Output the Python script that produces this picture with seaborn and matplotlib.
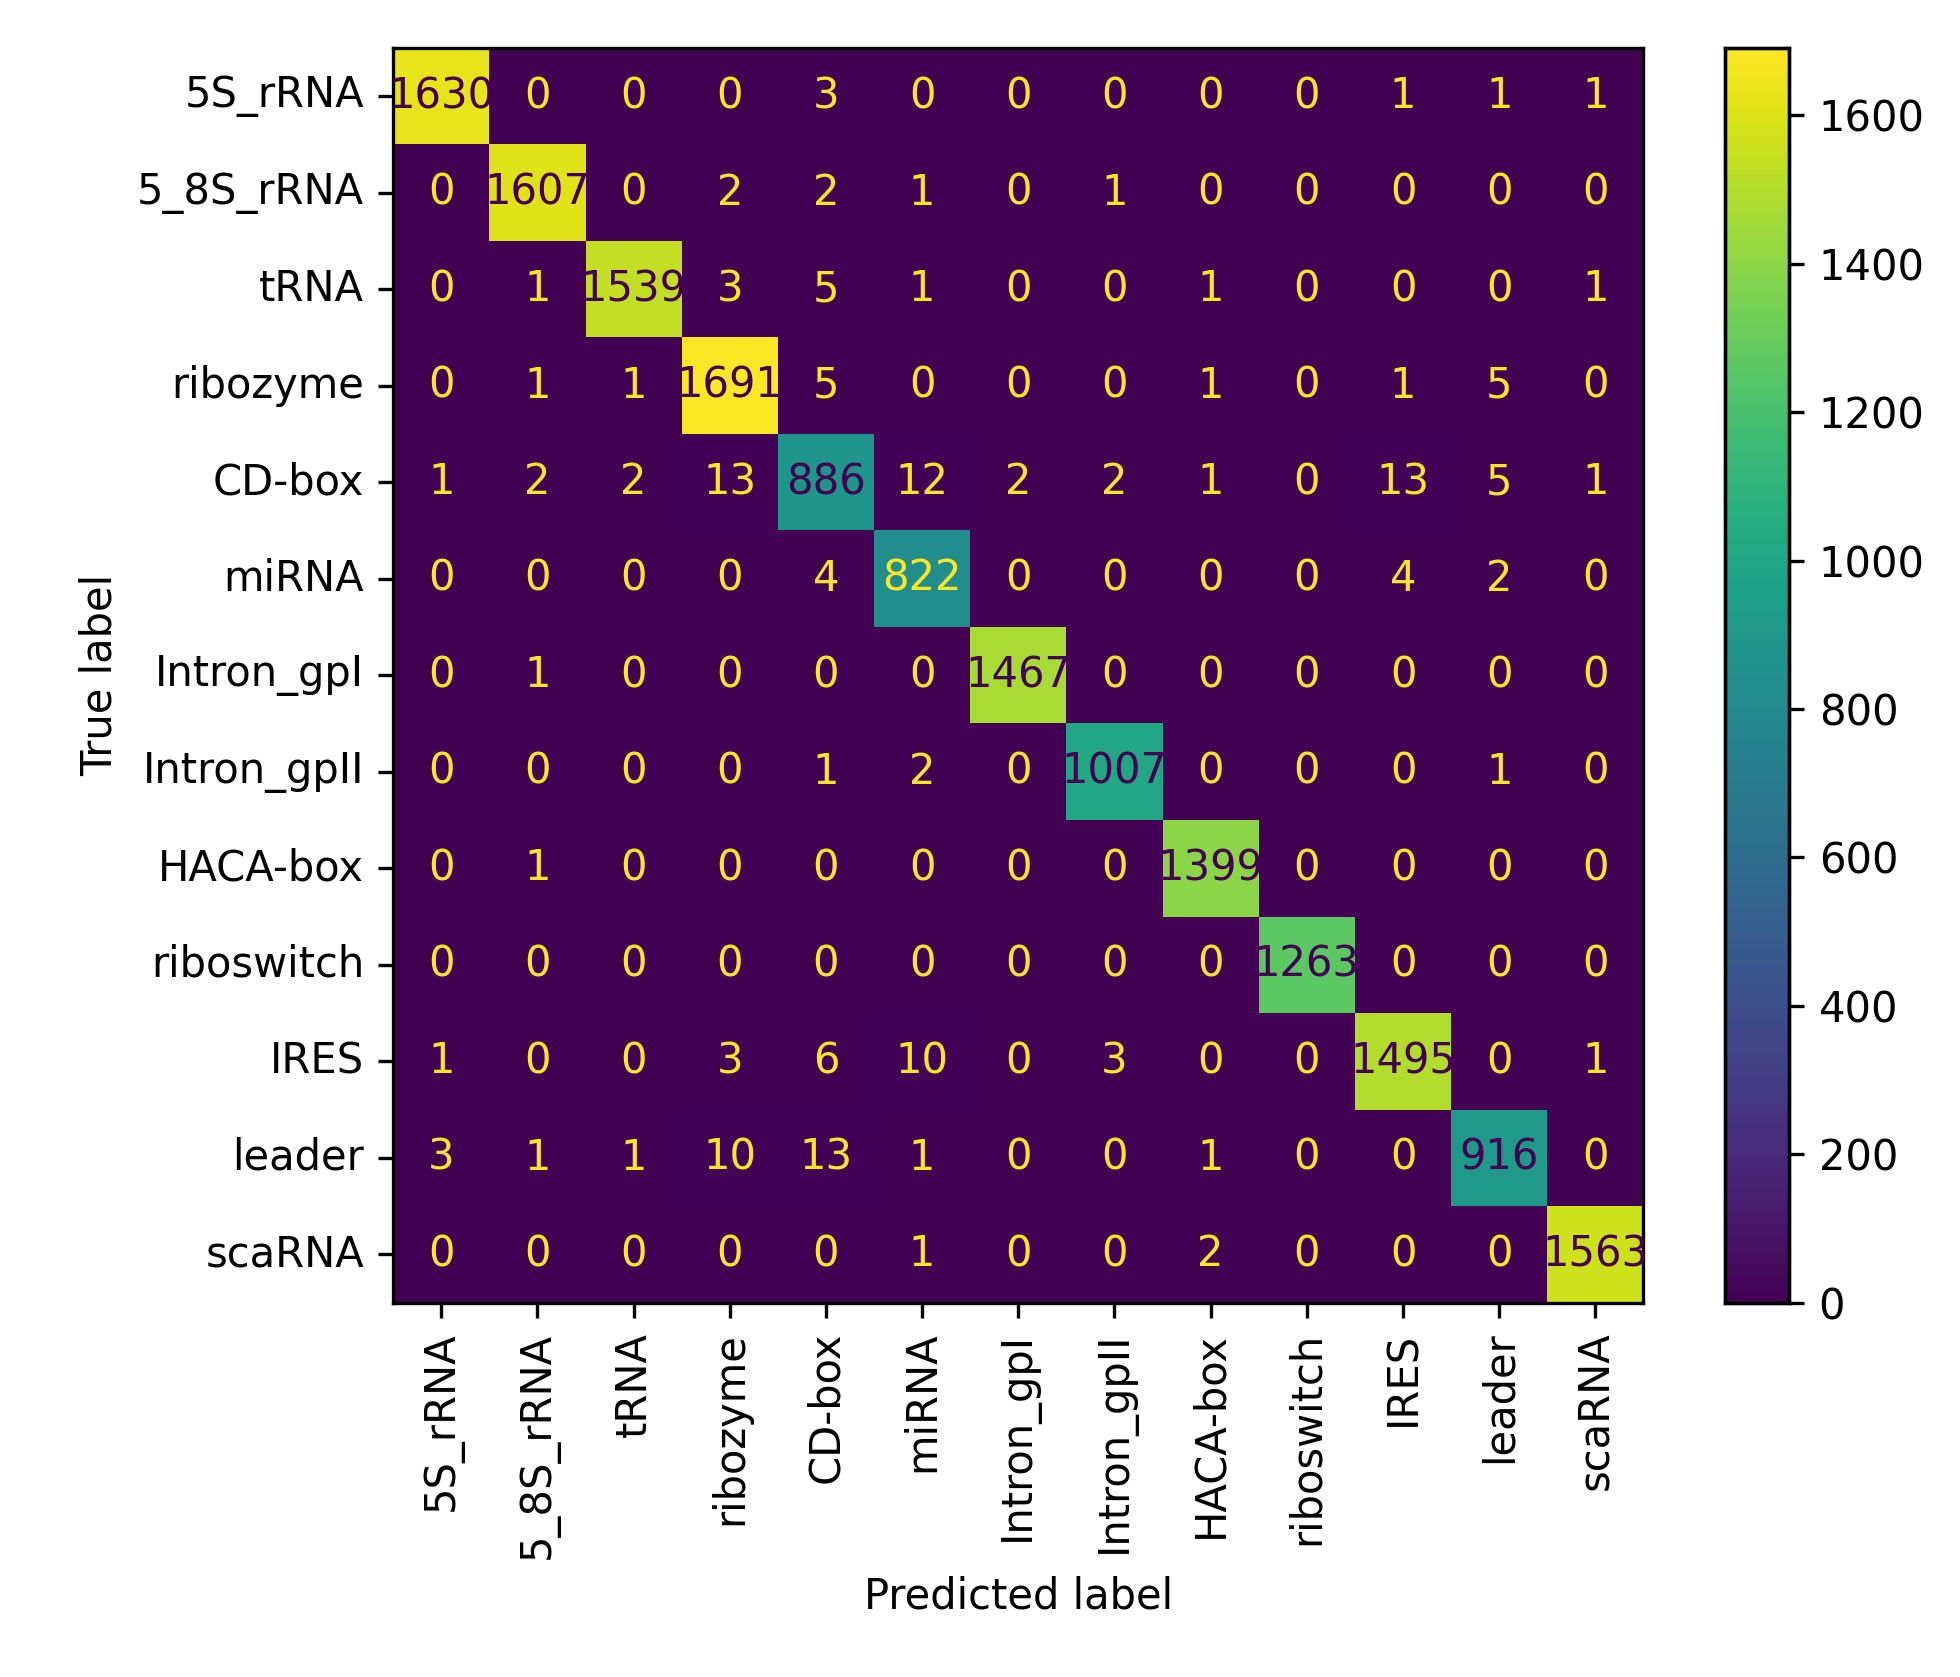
import numpy as np
import matplotlib
matplotlib.use('Agg')
import matplotlib.pyplot as plt
import seaborn as sns

labels = ['5S_rRNA', '5_8S_rRNA', 'tRNA', 'ribozyme', 'CD-box', 'miRNA',
          'Intron_gpI', 'Intron_gpII', 'HACA-box', 'riboswitch', 'IRES',
          'leader', 'scaRNA']

row_5s = [1630, 0, 0, 0, 3, 0, 0, 0, 0, 0, 1, 1, 1]
row_58s = [0, 1607, 0, 2, 2, 1, 0, 1, 0, 0, 0, 0, 0]
row_trna = [0, 1, 1539, 3, 5, 1, 0, 0, 1, 0, 0, 0, 1]
row_ribozyme = [0, 1, 1, 1691, 5, 0, 0, 0, 1, 0, 1, 5, 0]
row_cdbox = [1, 2, 2, 13, 886, 12, 2, 2, 1, 0, 13, 5, 1]
row_mirna = [0, 0, 0, 0, 4, 822, 0, 0, 0, 0, 4, 2, 0]
row_gpi = [0, 1, 0, 0, 0, 0, 1467, 0, 0, 0, 0, 0, 0]
row_gpii = [0, 0, 0, 0, 1, 2, 0, 1007, 0, 0, 0, 1, 0]
row_haca = [0, 1, 0, 0, 0, 0, 0, 0, 1399, 0, 0, 0, 0]
row_ribosw = [0, 0, 0, 0, 0, 0, 0, 0, 0, 1263, 0, 0, 0]
row_ires = [1, 0, 0, 3, 6, 10, 0, 3, 0, 0, 1495, 0, 1]
row_leader = [3, 1, 1, 10, 13, 1, 0, 0, 1, 0, 0, 916, 0]
row_scarna = [0, 0, 0, 0, 0, 1, 0, 0, 2, 0, 0, 0, 1563]

cm = np.array([row_5s, row_58s, row_trna, row_ribozyme, row_cdbox, row_mirna,
               row_gpi, row_gpii, row_haca, row_ribosw, row_ires, row_leader,
               row_scarna])

plt.rcParams['font.family'] = 'DejaVu Sans'
plt.rcParams['font.size'] = 10

fig = plt.figure(figsize=(1960 / 300, 1677 / 300), dpi=300)
ax = fig.add_axes([0.2006, 0.2233, 0.6379, 0.7481])
cax = fig.add_axes([0.880, 0.2233, 0.033, 0.7481])

sns.heatmap(cm, ax=ax, cbar_ax=cax, cmap='viridis', annot=True, fmt='d',
            annot_kws={'fontsize': 10}, xticklabels=labels, yticklabels=labels,
            square=False)

# sklearn-style text colouring
cmap = plt.get_cmap('viridis')
thresh = (cm.max() + cm.min()) / 2.0
for t, v in zip(ax.texts, cm.flatten()):
    t.set_color(cmap(0.0) if v > thresh else cmap(1.0))

for s in ax.spines.values():
    s.set_visible(True)
    s.set_linewidth(0.8)
ax.tick_params(length=3.5, width=0.8)
ax.set_xticklabels(labels, rotation=90)
ax.set_yticklabels(labels, rotation=0)
ax.set_xlabel('Predicted label')
ax.set_ylabel('True label')

cax.set_yticks(range(0, 1700, 200))
for s in cax.spines.values():
    s.set_visible(True)
    s.set_linewidth(0.8)
cax.tick_params(length=3.5, width=0.8)

fig.savefig('out.png', dpi=300)
